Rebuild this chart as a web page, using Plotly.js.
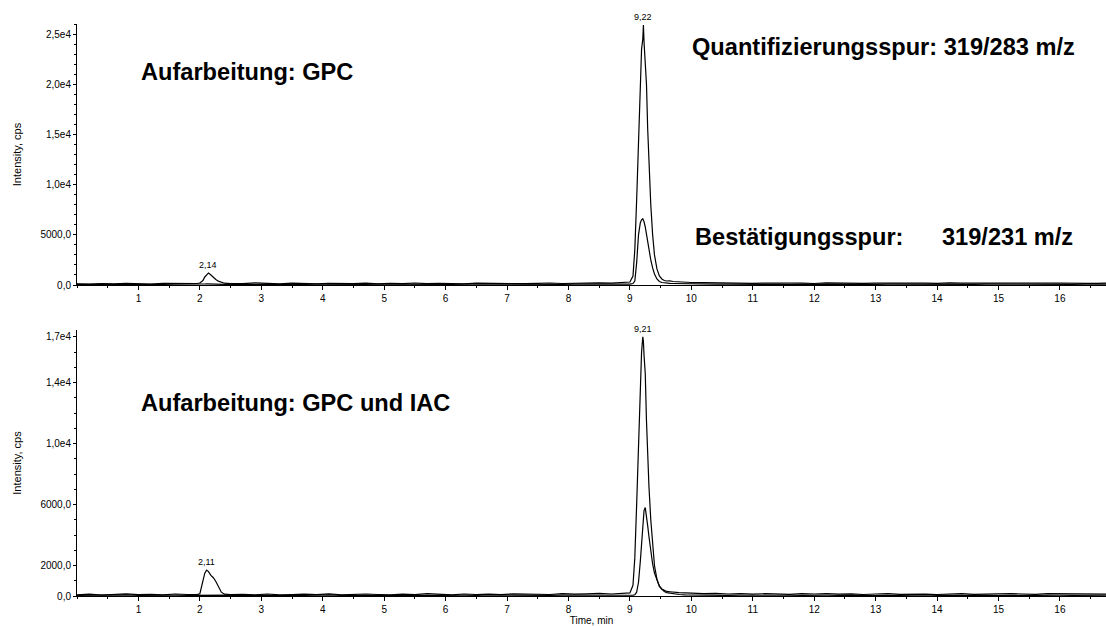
<!DOCTYPE html>
<html>
<head>
<meta charset="utf-8">
<script src="https://cdn.plot.ly/plotly-3.0.1.min.js"></script>
<style>html,body{margin:0;padding:0;background:#fff;}#chart{width:1106px;height:626px;}</style>
</head>
<body>
<div id="chart"></div>
<script>
// Retention time grid (min)
const time = [
  0.0, 0.2, 0.4, 0.6, 0.8, 1.0, 1.2, 1.4, 1.6, 1.8,
  1.95, 2.0, 2.05, 2.08, 2.11, 2.14, 2.18, 2.22, 2.26, 2.3, 2.35, 2.4, 2.5,
  2.7, 2.9, 3.1, 3.3, 3.5, 3.7, 3.9, 4.1, 4.3, 4.5, 4.7, 4.9, 5.1, 5.3, 5.5, 5.7,
  5.9, 6.1, 6.3, 6.5, 6.7, 6.9, 7.1, 7.3, 7.5, 7.7, 7.9, 8.1, 8.3, 8.5, 8.7, 8.9,
  9.0, 9.05, 9.08, 9.11, 9.14, 9.17, 9.19, 9.21, 9.22, 9.23, 9.25, 9.27, 9.29, 9.31,
  9.34, 9.37, 9.4, 9.44, 9.48, 9.52, 9.56, 9.6, 9.65, 9.7, 9.8, 9.9,
  10.0, 10.2, 10.4, 10.6, 10.8, 11.0, 11.2, 11.4, 11.6, 11.8, 12.0, 12.2, 12.4, 12.6,
  12.8, 13.0, 13.2, 13.4, 13.6, 13.8, 14.0, 14.2, 14.4, 14.6, 14.8, 15.0, 15.2, 15.4,
  15.6, 15.8, 16.0, 16.2, 16.4, 16.6, 16.75
];

// Top panel (GPC): quantifier 319/283 and qualifier 319/231
const gpcQuant = [
  120, 90, 150, 110, 160, 130, 100, 170, 140, 180,
  150, 200, 450, 800, 1050, 1200, 1000, 750, 550, 380, 250, 180, 140,
  130, 220, 160, 120, 180, 140, 110, 170, 150, 130, 190, 120, 160, 140, 200, 130,
  170, 150, 120, 180, 160, 140, 190, 130, 170, 200, 150, 180, 160, 210, 190, 230,
  300, 900, 3500, 8500, 14500, 20500, 23500, 24500, 25900, 24200, 21500, 20000, 15500, 12000,
  8000, 5000, 3000, 1600, 900, 600, 450, 400, 420, 350, 300, 280,
  250, 230, 200, 180, 210, 170, 190, 160, 200, 180, 150, 210, 170, 190,
  160, 180, 200, 150, 170, 190, 160, 210, 180, 170, 200, 150, 190, 170,
  160, 180, 200, 150, 170, 160, 180
];
const gpcQual = [
  60, 80, 50, 90, 70, 60, 100, 70, 80, 60,
  70, 80, 90, 100, 110, 100, 90, 80, 90, 70, 80, 60, 70,
  60, 80, 70, 90, 50, 70, 80, 60, 90, 70, 60, 80, 70, 90, 60, 80,
  70, 60, 90, 80, 70, 60, 80, 90, 70, 80, 60, 90, 80, 70, 100, 90,
  80, 150, 400, 2200, 5000, 6200, 6500, 6600, 6500, 6300, 5800, 5000, 4200, 3500,
  2500, 1700, 1100, 600, 350, 250, 200, 180, 160, 150, 130, 120,
  110, 100, 80, 90, 70, 80, 60, 90, 70, 80, 60, 90, 70, 80,
  60, 70, 90, 80, 60, 70, 80, 90, 70, 60, 80, 70, 90, 60,
  80, 70, 90, 60, 80, 70, 80
];

// Bottom panel (GPC und IAC)
const iacQuant = [
  80, 120, 60, 100, 140, 90, 110, 70, 130, 100,
  90, 150, 900, 1500, 1700, 1600, 1350, 1200, 950, 600, 250, 120, 90,
  110, 80, 130, 70, 100, 120, 90, 140, 80, 110, 130, 100, 70, 120, 90, 150,
  110, 80, 130, 100, 120, 90, 140, 110, 130, 100, 150, 120, 140, 170, 130, 160,
  200, 700, 2500, 6000, 10000, 13800, 16000, 17000, 16700, 15800, 14600, 11500, 9000, 7200,
  5000, 3300, 2000, 1100, 650, 450, 350, 300, 280, 250, 220, 200,
  180, 150, 170, 130, 160, 120, 150, 140, 110, 160, 130, 150, 120, 140,
  100, 130, 150, 110, 140, 120, 100, 130, 150, 110, 140, 120, 160, 130,
  110, 150, 140, 120, 130, 110, 120
];
const iacQual = [
  40, 60, 30, 50, 70, 40, 60, 30, 50, 40,
  50, 40, 60, 50, 40, 60, 50, 40, 60, 50, 40, 50, 60,
  40, 60, 50, 30, 60, 40, 50, 70, 40, 50, 60, 40, 50, 30, 60, 50,
  40, 60, 50, 40, 70, 50, 40, 60, 50, 40, 60, 50, 70, 40, 60, 50,
  50, 60, 80, 250, 900, 2300, 3500, 4600, 5200, 5600, 5800, 5300, 4600, 3900,
  2900, 2100, 1500, 1000, 650, 450, 300, 220, 180, 150, 100, 80,
  70, 50, 60, 40, 50, 60, 40, 70, 50, 40, 60, 50, 40, 60,
  30, 50, 60, 40, 50, 70, 40, 50, 60, 40, 50, 30, 60, 50,
  40, 60, 50, 40, 50, 60, 50
];

// Axis ticks
const xTicks = [1, 2, 3, 4, 5, 6, 7, 8, 9, 10, 11, 12, 13, 14, 15, 16];
const yTopVals = [0, 5000, 10000, 15000, 20000, 25000];
const yTopText = ["0,0", "5000,0", "1,0e4", "1,5e4", "2,0e4", "2,5e4"];
const yBotVals = [0, 2000, 6000, 10000, 14000, 17000];
const yBotText = ["0,0", "2000,0", "6000,0", "1,0e4", "1,4e4", "1,7e4"];

// Peak labels
const peakLabels = [
  {t: 9.22, v: 25900, text: "9,22", panel: 1},
  {t: 2.14, v: 1200, text: "2,14", panel: 1},
  {t: 9.21, v: 17000, text: "9,21", panel: 2},
  {t: 2.11, v: 1700, text: "2,11", panel: 2}
];

const lineStyle = {color: '#000', width: 1.2};
const traces = [
  {x: time, y: gpcQual, xaxis: 'x', yaxis: 'y', mode: 'lines', line: lineStyle, name: '319/231'},
  {x: time, y: gpcQuant, xaxis: 'x', yaxis: 'y', mode: 'lines', line: lineStyle, name: '319/283'},
  {x: time, y: iacQual, xaxis: 'x2', yaxis: 'y2', mode: 'lines', line: lineStyle, name: '319/231'},
  {x: time, y: iacQuant, xaxis: 'x2', yaxis: 'y2', mode: 'lines', line: lineStyle, name: '319/283'}
];

const fontFam = 'Liberation Sans, Arial, Helvetica, sans-serif';
const tickFont = {family: fontFam, size: 10, color: '#000'};

function xAxis(anchor, title) {
  return {
    anchor: anchor, domain: [0, 1], range: [0, 16.75],
    showline: true, linecolor: '#000', linewidth: 1,
    ticks: 'outside', ticklen: 4, tickcolor: '#000', tickwidth: 1,
    tickmode: 'array', tickvals: xTicks, ticktext: xTicks.map(String),
    tickfont: tickFont, showgrid: false, zeroline: false,
    minor: {ticks: 'outside', ticklen: 2, dtick: 0.5, tick0: 0, tickcolor: '#000', showgrid: false},
    title: {text: title, font: {family: fontFam, size: 10, color: '#000'}, standoff: 2}
  };
}
function yAxis(anchor, domain, range, vals, text) {
  return {
    anchor: anchor, domain: domain, range: range,
    showline: true, linecolor: '#000', linewidth: 1,
    ticks: 'outside', ticklen: 3, tickcolor: '#000', tickwidth: 1,
    tickmode: 'array', tickvals: vals, ticktext: text,
    tickfont: tickFont, showgrid: false, zeroline: false,
    minor: {ticks: 'outside', ticklen: 2, dtick: 1000, tick0: 0, tickcolor: '#000', showgrid: false},
    title: {text: 'Intensity, cps', font: {family: fontFam, size: 11, color: '#000'}, standoff: 16}
  };
}

const bigFont = {family: fontFam, size: 23.6, color: '#000', weight: 700};
const annotations = [
  {xref: 'paper', yref: 'paper', x: 0.0603, y: 0.916, xanchor: 'left', yanchor: 'middle', text: 'Aufarbeitung: GPC', showarrow: false, font: bigFont},
  {xref: 'paper', yref: 'paper', x: 0.5957, y: 0.9598, xanchor: 'left', yanchor: 'middle', text: 'Quantifizierungsspur: 319/283 m/z', showarrow: false, font: bigFont},
  {xref: 'paper', yref: 'paper', x: 0.5986, y: 0.6276, xanchor: 'left', yanchor: 'middle', text: 'Bestätigungsspur:', showarrow: false, font: bigFont},
  {xref: 'paper', yref: 'paper', x: 0.970, y: 0.6276, xanchor: 'right', yanchor: 'middle', text: '319/231 m/z', showarrow: false, font: bigFont},
  {xref: 'paper', yref: 'paper', x: 0.0603, y: 0.3374, xanchor: 'left', yanchor: 'middle', text: 'Aufarbeitung: GPC und IAC', showarrow: false, font: bigFont}
];
peakLabels.forEach(p => {
  annotations.push({
    xref: p.panel === 1 ? 'x' : 'x2', yref: p.panel === 1 ? 'y' : 'y2',
    x: p.t, y: p.v, xanchor: 'center', yanchor: 'bottom', yshift: 1,
    text: p.text, showarrow: false, font: {family: fontFam, size: 9, color: '#000'}
  });
});

const layout = {
  width: 1106, height: 626,
  margin: {l: 77, r: 0, t: 24, b: 30, pad: 0},
  paper_bgcolor: '#fff', plot_bgcolor: '#fff',
  showlegend: false,
  xaxis: xAxis('y', ''),
  yaxis: yAxis('x', [0.5437, 1], [0, 26000], yTopVals, yTopText),
  xaxis2: xAxis('y2', 'Time, min'),
  yaxis2: yAxis('x2', [0, 0.465], [0, 17450], yBotVals, yBotText),
  annotations: annotations
};

Plotly.newPlot('chart', traces, layout, {displayModeBar: false, responsive: false});
</script>
</body>
</html>
